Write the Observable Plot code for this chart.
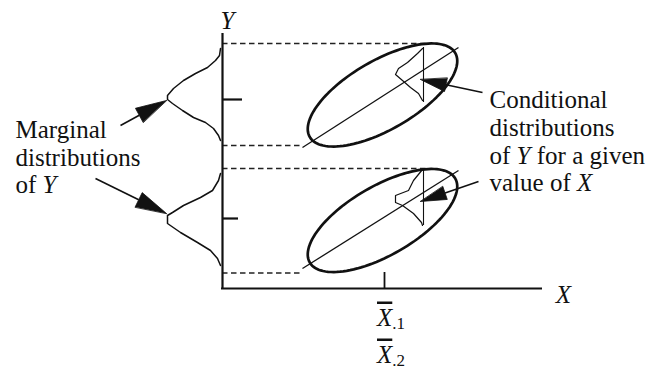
<!DOCTYPE html>
<html>
<head>
<meta charset="utf-8">
<script src="https://cdn.jsdelivr.net/npm/d3@7"></script>
<script src="https://cdn.jsdelivr.net/npm/@observablehq/plot@0.6"></script>
<style>
  html, body { margin: 0; padding: 0; background: #fff; }
  #chart svg { display: block; }
</style>
</head>
<body>
<div id="chart"></div>
<script>
// ---- Diagram values (conceptual data space: X axis from 0, Y axis from 0) ----
const groups = ["1", "2"];

// joint distribution ellipses
const ellipseCX = [16.0, 16.0];
const ellipseCY = [19.35, 6.8];
const ellipseA = [8.4, 8.4];      // semi-major
const ellipseB = [3.45, 3.45];    // semi-minor
const ellipseAngle = [30, 30];    // degrees

// regression lines
const regX = [8.0, 23.6];
const regY = [[14.1, 24.1], [2.0, 11.8]];

// dashed projection levels (top / bottom of each ellipse)
const dashLevel = [24.5, 14.3, 12.0, 1.55];
const dashEnd = [20.5, 8.1, 20.5, 8.1];

// marginal distributions of Y (Y value, height left of axis)
const marg1Y = [24.0, 23.3, 22.8, 22.1, 21.5, 20.8, 20.0, 19.3, 18.9, 18.5, 17.8, 17.1, 16.6, 16.0, 15.3, 14.8];
const marg1H = [0.2, 0.3, 0.7, 1.5, 2.7, 3.9, 4.9, 5.5, 5.5, 5.0, 4.0, 2.9, 1.7, 0.9, 0.4, 0.2];
const marg2Y = [11.5, 10.8, 9.8, 9.1, 8.3, 7.6, 7.3, 6.5, 5.6, 4.6, 3.8, 3.0, 2.3];
const marg2H = [0.2, 0.4, 1.0, 2.2, 3.9, 5.0, 5.5, 5.5, 4.2, 2.5, 1.2, 0.5, 0.2];

// conditional distributions of Y at a given X
const condX = 20.1;
const condRange = [[18.6, 24.1], [6.3, 12.0]];
const cond1Y = [24.0, 23.5, 22.6, 22.0, 21.4, 20.8, 20.1, 19.5, 18.8];
const cond1H = [0.1, 0.6, 1.6, 2.5, 2.8, 2.1, 1.3, 0.5, 0.1];
const cond2Y = [11.9, 10.8, 9.8, 9.3, 8.6, 8.3, 7.5, 6.6, 6.3];
const cond2H = [0.1, 1.0, 1.5, 2.8, 2.8, 2.1, 1.0, 0.2, 0.1];

// axes and ticks
const xAxisEnd = 32.0;
const yAxisEnd = 25.5;
const yTicks = [18.9, 7.0];
const yTickLen = [2.0, 1.6];
const xTicks = [16.2];
const xTickLen = 1.6;

// arrows: tail -> tip
const arrowTailX = [-10.2, -12.7, 26.0, 25.6];
const arrowTailY = [16.3, 11.0, 19.6, 10.7];
const arrowTipX = [-5.6, -5.6, 19.8, 19.8];
const arrowTipY = [18.8, 7.5, 20.9, 8.7];
const arrowHeadLen = [3.1, 3.1, 2.6, 2.6];
const arrowHeadHalf = [0.8, 0.8, 0.68, 0.68];

// labels (*..* italic, ^..^ overlined italic, _.._ subscript)
const leftLabel = ["Marginal", "distributions", "of *Y*"];
const leftLabelX = -20.7;
const leftLabelY = [15.9, 13.1, 10.4];
const rightLabel = ["Conditional", "distributions", "of *Y* for a given", "value of *X*"];
const rightLabelX = 26.7;
const rightLabelY = [18.9, 16.1, 13.3, 10.6];
const axisLabel = ["*Y*", "*X*"];
const axisLabelX = [0.5, 34.1];
const axisLabelY = [26.8, -0.6];
const meanLabel = ["^X^_.1_", "^X^_.2_"];
const meanLabelX = [15.45, 15.45];
const meanLabelY = [-2.9, -6.6];

// ---- build tables ----
const ellipsePts = groups.flatMap((g, i) => d3.range(0, 360, 3).map(deg => {
  const t = deg * Math.PI / 180, th = ellipseAngle[i] * Math.PI / 180;
  const ex = ellipseA[i] * Math.cos(t), ey = ellipseB[i] * Math.sin(t);
  return {g, x: ellipseCX[i] + ex * Math.cos(th) - ey * Math.sin(th),
             y: ellipseCY[i] + ex * Math.sin(th) + ey * Math.cos(th)};
}));
const regLines = groups.map((g, i) => ({g, x1: regX[0], x2: regX[1], y1: regY[i][0], y2: regY[i][1]}));
const dashes = dashLevel.map((y, i) => ({y, x2: dashEnd[i]}));
const marginal = [
  ...marg1Y.map((y, i) => ({g: "1", x: -marg1H[i], y})),
  ...marg2Y.map((y, i) => ({g: "2", x: -marg2H[i], y}))
];
const conditional = [
  ...cond1Y.map((y, i) => ({g: "1", x: condX - cond1H[i], y})),
  ...cond2Y.map((y, i) => ({g: "2", x: condX - cond2H[i], y}))
];
const condLines = groups.map((g, i) => ({x: condX, y1: condRange[i][0], y2: condRange[i][1]}));
const arrows = arrowTailX.map((tx, i) => {
  const dx = arrowTipX[i] - tx, dy = arrowTipY[i] - arrowTailY[i];
  const len = Math.hypot(dx, dy), ux = dx / len, uy = dy / len;
  const bx = arrowTipX[i] - arrowHeadLen[i] * ux, by = arrowTipY[i] - arrowHeadLen[i] * uy;
  return {i, tx, ty: arrowTailY[i], hx: arrowTipX[i], hy: arrowTipY[i], bx, by, ux, uy, w: arrowHeadHalf[i]};
});
const heads = arrows.flatMap(a => [
  {i: a.i, x: a.hx, y: a.hy},
  {i: a.i, x: a.bx - a.uy * a.w, y: a.by + a.ux * a.w},
  {i: a.i, x: a.bx + a.uy * a.w, y: a.by - a.ux * a.w}
]);
const startTexts = [
  ...leftLabel.map((t, i) => ({t, x: leftLabelX, y: leftLabelY[i]})),
  ...rightLabel.map((t, i) => ({t, x: rightLabelX, y: rightLabelY[i]})),
  ...meanLabel.map((t, i) => ({t, x: meanLabelX[i], y: meanLabelY[i]}))
];
const middleTexts = axisLabel.map((t, i) => ({t, x: axisLabelX[i], y: axisLabelY[i]}));
const serif = "'Liberation Serif', 'Times New Roman', serif";

const chart = Plot.plot({
  width: 667,
  height: 370,
  margin: 0,
  x: {domain: [-22.2, 44.5], axis: null},
  y: {domain: [-8.2, 28.8], axis: null},
  style: {background: "#fff", color: "#111", fontFamily: serif},
  marks: [
    Plot.ruleY(dashes, {y: "y", x1: 0, x2: "x2", stroke: "#222", strokeWidth: 1.3, strokeDasharray: "5.5,3.5"}),
    Plot.line(ellipsePts, {x: "x", y: "y", z: "g", curve: "linear-closed", stroke: "#111", strokeWidth: 2.7}),
    Plot.link(regLines, {x1: "x1", y1: "y1", x2: "x2", y2: "y2", stroke: "#111", strokeWidth: 1.3}),
    Plot.ruleX(condLines, {x: "x", y1: "y1", y2: "y2", stroke: "#111", strokeWidth: 1.1}),
    Plot.line(conditional, {x: "x", y: "y", z: "g", stroke: "#111", strokeWidth: 1.2}),
    Plot.line(marginal, {x: "x", y: "y", z: "g", stroke: "#111", strokeWidth: 1.5}),
    Plot.ruleX([0], {y1: 0, y2: yAxisEnd, stroke: "#111", strokeWidth: 2.2}),
    Plot.ruleY([0], {x1: -0.1, x2: xAxisEnd, stroke: "#111", strokeWidth: 2.2}),
    Plot.ruleY(yTicks, {y: d => d, x1: 0, x2: (d, i) => yTickLen[i], stroke: "#111", strokeWidth: 2.2}),
    Plot.ruleX(xTicks, {x: d => d, y1: 0, y2: xTickLen, stroke: "#111", strokeWidth: 1.8}),
    Plot.link(arrows, {x1: "tx", y1: "ty", x2: "bx", y2: "by", stroke: "#111", strokeWidth: 1.6}),
    Plot.line(heads, {x: "x", y: "y", z: "i", fill: "#111", stroke: "#111", strokeWidth: 0.8, curve: "linear-closed"}),
    Plot.text(startTexts, {x: "x", y: "y", text: "t", textAnchor: "start", lineAnchor: "middle", fontSize: 25, fontFamily: serif, fill: "#111"}),
    Plot.text(middleTexts, {x: "x", y: "y", text: "t", textAnchor: "middle", lineAnchor: "middle", fontSize: 25, fontFamily: serif, fill: "#111"})
  ]
});

// rich text: italics, overline and subscript inside real text elements
chart.querySelectorAll("text").forEach(t => {
  const s = t.textContent;
  if (!/[*^_]/.test(s)) return;
  const parts = s.match(/(\*[^*]+\*|\^[^^]+\^|_[^_]+_|[^*^_]+)/g);
  while (t.firstChild) t.removeChild(t.firstChild);
  for (const m of parts) {
    const ts = document.createElementNS("http://www.w3.org/2000/svg", "tspan");
    if (m[0] === "*") {
      ts.textContent = m.slice(1, -1);
      ts.setAttribute("font-style", "italic");
    } else if (m[0] === "^") {
      ts.textContent = m.slice(1, -1);
      ts.setAttribute("font-style", "italic");
      ts.setAttribute("text-decoration", "overline");
      ts.style.textDecoration = "overline";
    } else if (m[0] === "_") {
      ts.textContent = m.slice(1, -1);
      ts.setAttribute("font-size", "17");
      ts.setAttribute("dy", "3");
    } else {
      ts.textContent = m;
    }
    t.appendChild(ts);
  }
});

document.getElementById("chart").appendChild(chart);
</script>
</body>
</html>
